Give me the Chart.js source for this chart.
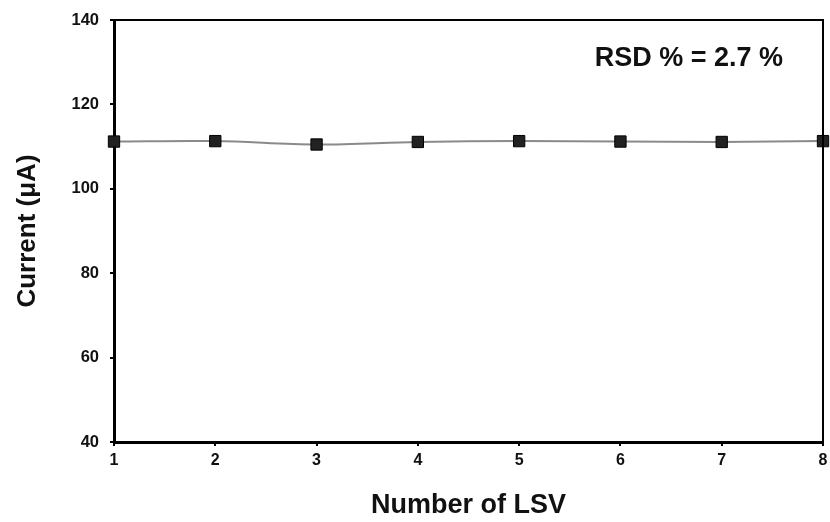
<!DOCTYPE html>
<html>
<head>
<meta charset="utf-8">
<script src="https://cdn.jsdelivr.net/npm/chart.js@4.4.0/dist/chart.umd.min.js"></script>
<style>
html,body{margin:0;padding:0;background:#fff;}
#wrap{width:830px;height:522px;position:relative;}
</style>
</head>
<body>
<div id="wrap"><canvas id="c" width="830" height="522"></canvas></div>
<script>
const categories = [1, 2, 3, 4, 5, 6, 7, 8];
const currentValues = [111.2, 111.3, 110.5, 111.1, 111.3, 111.2, 111.1, 111.3];
const yTicks = [40, 60, 80, 100, 120, 140];
const xTicks = [1, 2, 3, 4, 5, 6, 7, 8];
const annotationText = 'RSD % = 2.7 %';

const FONT = '"Liberation Sans", Arial, Helvetica, sans-serif';

const framePlugin = {
  id: 'frame',
  afterDatasetsDraw(chart) {
    const {ctx, chartArea: a} = chart;
    ctx.save();
    ctx.strokeStyle = '#000';
    ctx.lineWidth = 2;
    ctx.beginPath();
    ctx.moveTo(a.left, a.top);
    ctx.lineTo(a.right, a.top);
    ctx.lineTo(a.right, a.bottom);
    ctx.stroke();
    ctx.restore();
  }
};

const textPlugin = {
  id: 'rsdText',
  afterDraw(chart) {
    const {ctx, chartArea: a} = chart;
    ctx.save();
    ctx.fillStyle = '#111';
    ctx.font = 'bold 27px ' + FONT;
    ctx.textAlign = 'right';
    ctx.textBaseline = 'middle';
    ctx.fillText(annotationText, a.right - 40, a.top + 39);
    ctx.restore();
  }
};

new Chart(document.getElementById('c'), {
  type: 'line',
  data: {
    datasets: [{
      data: categories.map((x, i) => ({x: x, y: currentValues[i]})),
      borderColor: '#8a8a8a',
      borderWidth: 2,
      tension: 0.35,
      pointStyle: 'rect',
      pointRadius: 8,
      pointBorderWidth: 1,
      pointBackgroundColor: '#222',
      pointBorderColor: '#000',
      clip: false
    }]
  },
  options: {
    responsive: false,
    animation: false,
    layout: {autoPadding: false, padding: {top: 20, right: 7, left: 0, bottom: 0}},
    plugins: {legend: {display: false}, tooltip: {enabled: false}},
    scales: {
      x: {
        type: 'linear',
        min: 1, max: 8,
        afterFit(s) { s.height = 80; s.paddingRight = 0; s.paddingLeft = 0; },
        afterBuildTicks(s) { s.ticks = xTicks.map(v => ({value: v})); },
        grid: {drawOnChartArea: false, tickLength: 4, color: '#000', lineWidth: 2},
        border: {color: '#000', width: 3},
        ticks: {color: '#111', padding: 5, font: {family: FONT, size: 16, weight: 'bold'}},
        title: {display: true, text: 'Number of LSV', color: '#111',
          font: {family: FONT, size: 27, weight: 'bold'}, padding: {top: 0, bottom: 0}}
      },
      y: {
        min: 40, max: 140,
        afterFit(s) { s.width = 114; s.paddingTop = 0; s.paddingBottom = 0; },
        afterBuildTicks(s) { s.ticks = yTicks.map(v => ({value: v})); },
        grid: {drawOnChartArea: false, tickLength: 4, color: '#000', lineWidth: 2},
        border: {color: '#000', width: 3},
        ticks: {color: '#111', padding: 11, font: {family: FONT, size: 16.5, weight: 'bold'}},
        title: {display: true, text: 'Current (μA)', color: '#111',
          font: {family: FONT, size: 26, weight: 'bold'}, padding: {top: 12, bottom: 0}}
      }
    }
  },
  plugins: [framePlugin, textPlugin]
});
</script>
</body>
</html>
